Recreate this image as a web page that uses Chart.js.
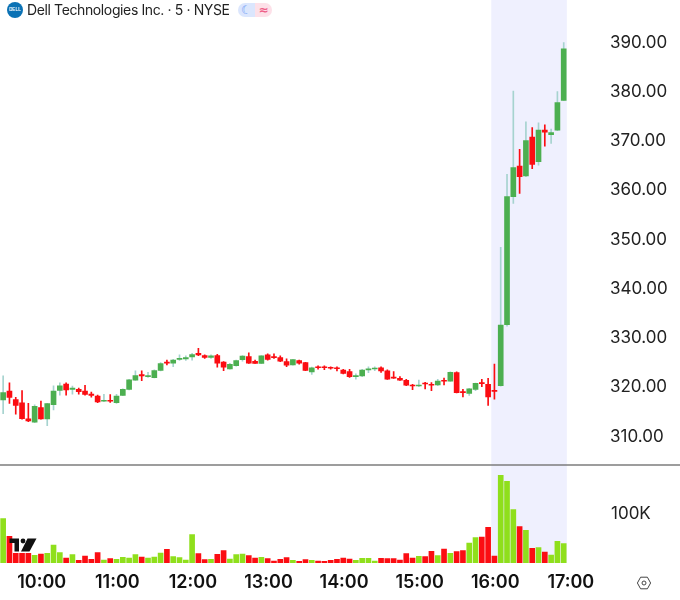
<!DOCTYPE html>
<html>
<head>
<meta charset="utf-8">
<title>Dell Technologies Inc.</title>
<script src="https://cdn.jsdelivr.net/npm/chart.js@4/dist/chart.umd.min.js"></script>
<style>
  html, body { margin: 0; padding: 0; background: #fff; }
  #wrap { position: relative; width: 680px; height: 600px; overflow: hidden; }
  canvas { position: absolute; left: 0; top: 0; }
  #title { position: absolute; left: 27px; top: 0px; font: 14px/19px "Inter", sans-serif; color: #222; letter-spacing: -0.38px; white-space: nowrap; }
  #logo { position: absolute; left: 7px; top: 2px; width: 16px; height: 16px; border-radius: 50%; background: #0b72b5; color: #fff; font: bold 4.5px/16px "Liberation Sans", sans-serif; text-align: center; }
  #badges { position: absolute; left: 238px; top: 3px; width: 34px; height: 14px; border-radius: 7px; overflow: hidden; font: bold 12px/14px "DejaVu Sans", sans-serif; text-align: center; }
  #badges span { float: left; width: 17px; height: 14px; }
  #moon { background: #dbe6fd; color: #6f9cf5; }
  #wave { background: #fde0e8; color: #ee5f88; }
  #tv, #gear { position: absolute; }
</style>
</head>
<body>
<div id="wrap">
  <canvas id="chart" width="680" height="600"></canvas>
  <div id="logo">DELL</div>
  <div id="title">Dell Technologies Inc. · 5 · NYSE</div>
  <div id="badges"><span id="moon">☾</span><span id="wave">≈</span></div>
  <svg id="tv" style="left:9px;top:537px" width="28" height="16" viewBox="0 0 28 16">
    <path d="M0.5 1.5H10V14.5H5.5V6H0.5Z" fill="#111"/>
    <circle cx="14" cy="4" r="2.4" fill="#111"/>
    <path d="M18.5 1.5H27.5L20.5 14.5H12Z" fill="#111"/>
  </svg>
  <svg id="gear" style="left:636px;top:575px" width="16" height="16" viewBox="0 0 16 16">
    <path d="M4.6 2.2H11.4L14.6 8L11.4 13.8H4.6L1.4 8Z" fill="none" stroke="#444" stroke-width="1"/>
    <circle cx="8" cy="8" r="2" fill="none" stroke="#444" stroke-width="1"/>
  </svg>
</div>
<script>
const times = [
  "09:30","09:35","09:40","09:45","09:50","09:55","10:00","10:05","10:10","10:15","10:20","10:25",
  "10:30","10:35","10:40","10:45","10:50","10:55","11:00","11:05","11:10","11:15","11:20","11:25",
  "11:30","11:35","11:40","11:45","11:50","11:55","12:00","12:05","12:10","12:15","12:20","12:25",
  "12:30","12:35","12:40","12:45","12:50","12:55","13:00","13:05","13:10","13:15","13:20","13:25",
  "13:30","13:35","13:40","13:45","13:50","13:55","14:00","14:05","14:10","14:15","14:20","14:25",
  "14:30","14:35","14:40","14:45","14:50","14:55","15:00","15:05","15:10","15:15","15:20","15:25",
  "15:30","15:35","15:40","15:45","15:50","15:55","16:00","16:05","16:10","16:15","16:20","16:25",
  "16:30","16:35","16:40","16:45","16:50","16:55","17:00","17:05","17:10","17:15","17:20"
];
const hourLabels = ["10:00","11:00","12:00","13:00","14:00","15:00","16:00","17:00"];
const priceTicks = [310,320,330,340,350,360,370,380,390];
const volumeTicks = [100];
const sessionStart = "16:00";
const sessionEnd = "16:55";

const open = [
  317.1,318.9,317.2,316.5,313.25,312.6,315.55,313.25,316.15,319.05,
  320.35,319.25,319.25,318.9,318.3,317.9,316.85,317.0,316.55,318.05,
  319.25,321.1,322.25,321.85,321.65,323.1,324.8,324.6,325.35,325.45,
  325.85,326.6,326.1,325.75,326.1,324.8,323.4,324.05,325.3,325.9,
  324.95,324.55,326.25,325.85,325.7,324.9,324.2,325.1,324.7,322.8,
  323.8,323.8,323.65,323.6,323.15,322.85,321.85,322.0,323.2,323.4,
  323.65,323.0,321.7,321.5,321.1,320.15,319.95,320.5,320.3,320.15,
  321.1,320.9,322.65,318.8,318.45,319.25,320.65,320.3,319.05,320.0,
  332.4,358.4,364.6,362.6,370.5,365.5,371.9,371.0,371.9,377.95
];
const close = [
  318.6,317.6,316.0,313.3,312.85,315.8,313.25,316.35,318.9,320.0,
  319.15,319.5,318.8,318.25,318.05,316.7,317.05,316.85,317.9,319.25,
  321.2,322.05,322.0,322.05,323.05,324.5,324.6,325.2,325.5,325.7,
  326.3,326.25,325.75,326.05,324.6,323.75,324.35,325.1,326.0,324.6,
  324.55,326.05,325.35,325.7,325.0,324.15,325.3,324.6,323.1,323.65,
  323.65,323.65,323.55,323.45,322.5,321.85,322.0,323.15,323.35,323.55,
  323.0,321.35,321.55,321.15,320.1,319.95,320.15,320.35,320.1,320.95,
  320.9,322.7,318.6,318.6,319.35,320.5,320.4,317.7,318.85,332.3,
  358.4,364.3,362.45,369.75,364.95,371.9,371.5,371.4,377.5,388.4
];
const high = [
  322.0,320.6,317.65,319.0,316.4,316.1,316.9,316.4,320.0,320.6,
  320.6,319.95,319.5,320.1,318.7,318.1,318.25,318.2,318.25,319.35,
  321.3,323.0,323.0,322.7,323.2,324.7,325.2,325.35,326.25,326.05,
  326.6,327.6,326.25,326.25,326.35,324.9,324.55,325.2,326.1,326.7,
  325.2,326.1,326.45,326.45,326.05,325.45,325.35,325.2,324.75,323.8,
  324.05,324.05,323.85,323.85,323.35,323.35,322.4,323.35,323.85,323.85,
  323.85,323.2,322.85,321.85,321.3,320.3,321.15,320.7,320.65,321.3,
  321.55,322.8,322.8,319.25,319.45,320.55,321.3,321.5,324.4,348.1,
  362.9,379.85,368.0,373.6,372.4,373.4,372.95,372.1,379.7,389.65
];
const low = [
  314.3,316.4,314.2,313.2,312.7,312.5,313.2,311.9,315.1,318.1,
  318.1,318.3,318.3,318.1,317.65,316.55,316.75,316.6,316.4,318.0,
  319.15,321.05,321.0,321.7,321.6,323.0,324.2,323.85,325.15,325.15,
  325.2,326.1,325.55,325.55,323.75,323.05,323.35,323.95,325.0,324.55,
  324.55,324.5,325.2,325.55,324.9,323.85,324.15,324.35,323.05,322.3,
  323.35,323.25,323.35,323.0,322.4,321.7,321.35,321.85,322.65,323.05,
  322.7,321.3,321.5,321.05,320.0,319.2,319.8,319.35,319.0,320.0,
  320.15,320.85,318.55,317.7,318.05,319.0,319.8,316.0,317.25,319.9,
  332.1,357.0,359.05,362.45,364.05,364.8,368.65,369.2,371.8,377.9
];
// thousands of shares
const volume = [
  86.9,52.3,18.9,18.9,18.9,15.0,17.6,18.9,35.3,20.3,
  9.8,16.3,5.2,13.7,7.2,20.3,5.9,8.5,7.2,11.1,
  9.8,16.3,11.8,9.8,11.8,19.6,26.8,12.4,10.5,5.9,
  55.5,18.3,6.5,7.2,17.0,24.2,7.8,16.3,17.6,14.4,
  9.8,11.1,8.5,3.9,7.2,10.5,5.2,3.3,6.5,5.2,
  3.9,3.3,5.2,7.2,9.8,7.8,5.2,9.1,9.1,3.9,
  9.1,8.5,8.5,5.9,18.3,9.8,13.1,12.4,22.9,14.4,
  27.4,18.9,22.2,24.2,39.2,49.7,51.0,69.9,13.7,171.8,
  160.1,104.5,71.2,64.0,28.7,30.1,21.6,15.7,42.5,37.9
];

const GREEN = '#4caf50';
const RED = '#fb0d12';
const WICK_GREEN = '#a6d3cf';
const VOL_GREEN = '#8fdf1c';
const FONT = 'Inter, sans-serif';
const isUp = i => close[i] >= open[i];

// session highlight and the line between the panes
const panePlugin = {
  id: 'panes',
  beforeDatasetsDraw(chart) {
    const { ctx, scales } = chart;
    const step = scales.x.getPixelForValue(1) - scales.x.getPixelForValue(0);
    const x0 = scales.x.getPixelForValue(times.indexOf(sessionStart)) - step / 2;
    const x1 = scales.x.getPixelForValue(times.indexOf(sessionEnd)) + step / 2;
    ctx.save();
    ctx.fillStyle = '#eff0fe';
    ctx.fillRect(x0, chart.chartArea.top, x1 - x0, chart.chartArea.bottom - chart.chartArea.top);
    ctx.strokeStyle = '#7d7d7d';
    ctx.lineWidth = 1.3;
    ctx.beginPath();
    ctx.moveTo(0, scales.vol.top);
    ctx.lineTo(chart.width, scales.vol.top);
    ctx.stroke();
    ctx.restore();
  }
};

const fixedWidth = 81.65;

// the tick labels may hang over the plot edges, so no padding is reserved for them
function noPadding(axis) {
  axis.paddingTop = 0;
  axis.paddingBottom = 0;
  axis.paddingLeft = 0;
  axis.paddingRight = 0;
}

new Chart(document.getElementById('chart'), {
  type: 'bar',
  data: {
    labels: times,
    datasets: [
      {
        label: 'Volume',
        yAxisID: 'vol',
        data: volume,
        backgroundColor: volume.map((v, i) => isUp(i) ? VOL_GREEN : RED),
        barThickness: 5,
        grouped: false,
        order: 3
      },
      {
        label: 'Wick',
        yAxisID: 'y',
        data: high.map((h, i) => [low[i], h]),
        backgroundColor: high.map((h, i) => isUp(i) ? WICK_GREEN : RED),
        barThickness: 1,
        grouped: false,
        order: 2
      },
      {
        label: 'Body',
        yAxisID: 'y',
        data: open.map((o, i) => [Math.min(o, close[i]), Math.max(o, close[i])]),
        backgroundColor: open.map((o, i) => isUp(i) ? GREEN : RED),
        barThickness: 5,
        minBarLength: 1,
        grouped: false,
        order: 1
      }
    ]
  },
  options: {
    responsive: false,
    animation: false,
    layout: { padding: { left: -1.15 } },
    plugins: { legend: { display: false }, tooltip: { enabled: false } },
    scales: {
      x: {
        grid: { display: false },
        border: { display: false },
        afterFit(axis) { axis.height = 37; noPadding(axis); },
        ticks: {
          autoSkip: false,
          maxRotation: 0,
          padding: 1,
          labelOffset: 0.8,
          color: '#111',
          font: { family: FONT, size: 18, weight: '600' },
          callback(value) {
            const t = this.getLabelForValue(value);
            return hourLabels.includes(t) ? t : '';
          }
        }
      },
      y: {
        position: 'right',
        stack: 'panes',
        stackWeight: 465,
        min: 303.9,
        max: 398.32,
        grid: { display: false },
        border: { display: false },
        afterFit(axis) { axis.width = fixedWidth; noPadding(axis); },
        afterBuildTicks(axis) { axis.ticks = priceTicks.map(value => ({ value })); },
        ticks: {
          padding: 3.65,
          labelOffset: 1.5,
          color: '#222',
          font: { family: FONT, size: 17 },
          callback: value => value.toFixed(2)
        }
      },
      vol: {
        position: 'right',
        stack: 'panes',
        stackWeight: 98,
        min: 0,
        max: 192,
        grid: { display: false },
        border: { display: false },
        afterFit(axis) { axis.width = fixedWidth; noPadding(axis); },
        afterBuildTicks(axis) { axis.ticks = volumeTicks.map(value => ({ value })); },
        ticks: {
          padding: 4.65,
          labelOffset: 1.5,
          color: '#222',
          font: { family: FONT, size: 17 },
          callback: value => value + 'K'
        }
      }
    }
  },
  plugins: [panePlugin]
});
</script>
</body>
</html>
